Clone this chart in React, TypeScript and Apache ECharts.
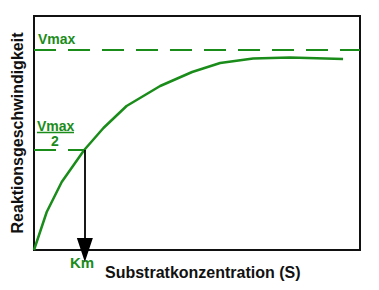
import React, { useEffect, useRef } from "react";
import * as echarts from "echarts";

const substrate = [0, 3.9, 8.5, 15.4, 21.3, 28.4, 38.7, 48.5, 57.1, 67.2, 78.5, 94.8];
const velocity = [0, 0.19, 0.34, 0.5, 0.61, 0.72, 0.82, 0.89, 0.935, 0.957, 0.962, 0.955];
const vmax = 1;
const km = 15.6;
const xAxisTitle = "Substratkonzentration (S)";
const yAxisTitle = "Reaktionsgeschwindigkeit";

const GREEN = "#1a8c1a";
const FONT = "Liberation Sans, Arial, sans-serif";

export default function App() {
  const ref = useRef<HTMLDivElement>(null);
  useEffect(() => {
    if (!ref.current) return;
    const chart = echarts.init(ref.current, null, { renderer: "svg" });
    chart.setOption({
      animation: false,
      grid: { left: 34, top: 16, right: 19, bottom: 40, show: true, borderColor: "#111", borderWidth: 2 },
      xAxis: {
        type: "value", min: 0, max: 100,
        axisLine: { show: true, lineStyle: { color: "#111", width: 2 } },
        axisTick: { show: false }, axisLabel: { show: false }, splitLine: { show: false },
      },
      yAxis: {
        type: "value", min: 0, max: 1.17,
        name: yAxisTitle, nameLocation: "middle", nameGap: 9,
        nameTextStyle: { fontFamily: FONT, fontWeight: "bold", fontSize: 16, color: "#111" },
        axisLine: { show: true, lineStyle: { color: "#111", width: 2 } },
        axisTick: { show: false }, axisLabel: { show: false }, splitLine: { show: false },
      },
      series: [
        {
          type: "line",
          data: substrate.map((x, i) => [x, velocity[i]]),
          showSymbol: false,
          lineStyle: { color: GREEN, width: 2.5 },
          silent: true,
          markLine: {
            silent: true, symbol: "none", animation: false,
            label: { show: false },
            data: [
              [
                { coord: [0, vmax], lineStyle: { color: GREEN, width: 2, type: [22, 12] } },
                { coord: [100, vmax] },
              ],
              [
                { coord: [0, vmax / 2], lineStyle: { color: GREEN, width: 2, type: [22, 12] } },
                { coord: [km, vmax / 2] },
              ],
              [
                { coord: [km, vmax / 2], symbol: "none", lineStyle: { color: "#000", width: 1.8, type: "solid" } },
                { coord: [km, 0], symbol: "triangle", symbolSize: [16, 24], symbolRotate: 180 },
              ],
            ],
          },
        },
      ],
      graphic: [
        { type: "text", left: 105, top: 264, style: { text: xAxisTitle, font: `bold 16px ${FONT}`, fill: "#111" } },
        { type: "text", left: 70, top: 255, style: { text: "Km", font: `bold 15px ${FONT}`, fill: GREEN } },
        { type: "text", left: 38, top: 32, style: { text: "Vmax", font: `bold 14px ${FONT}`, fill: GREEN } },
        { type: "text", left: 37, top: 119, style: { text: "Vmax", font: `bold 14px ${FONT}`, fill: GREEN } },
        { type: "line", shape: { x1: 37, y1: 132.5, x2: 74, y2: 132.5 }, style: { stroke: GREEN, lineWidth: 1.5 } },
        { type: "text", left: 51, top: 134, style: { text: "2", font: `bold 14px ${FONT}`, fill: GREEN } },
      ],
    });
    return () => chart.dispose();
  }, []);
  return <div ref={ref} style={{ width: 379, height: 290, margin: -8 }} />;
}
